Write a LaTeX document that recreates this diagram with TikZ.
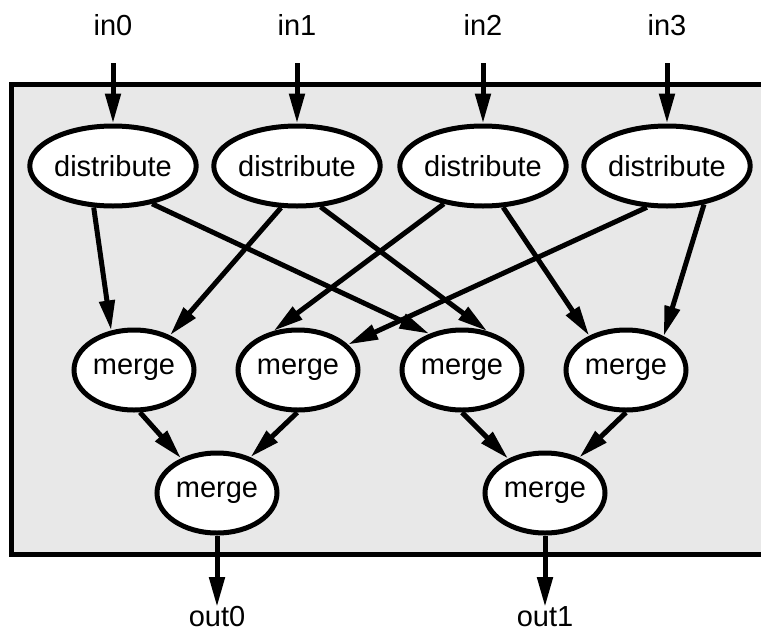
\documentclass[tikz,border=0pt]{standalone}
\usepackage{fontspec}
\setmainfont{Liberation Sans}
\usetikzlibrary{shapes.geometric,arrows.meta}
\definecolor{boxbg}{RGB}{232,232,232}
\begin{document}
\begin{tikzpicture}[x=1pt,y=-1pt,
  every node/.style={font=\fontsize{29}{34}\selectfont},
  dist/.style={ellipse,draw,line width=5pt,fill=white,minimum width=159pt,minimum height=80pt,inner sep=0pt},
  mrg/.style={ellipse,draw,line width=5pt,fill=white,minimum width=120pt,minimum height=80pt,inner sep=0pt},
  conn/.style={line width=5pt,-{Triangle[length=30pt,width=15pt]}},
  lbl/.style={anchor=base,inner sep=0pt}]
\useasboundingbox (0,0) rectangle (761,635);
\fill[boxbg] (11,84) rectangle (761,554.5);
\draw[line width=5pt] (770,84) -- (11,84) -- (11,554.5) -- (770,554.5);
% input labels and coordinates
\node[lbl] (l0) at (113,35) {in0};
\node[lbl] (l1) at (297,35) {in1};
\node[lbl] (l2) at (483,35) {in2};
\node[lbl] (l3) at (667,35) {in3};
\coordinate (i0) at (113,63);
\coordinate (i1) at (297,63);
\coordinate (i2) at (483,63);
\coordinate (i3) at (667,63);
% distribute nodes
\node[dist] (d0) at (113,166) {distribute};
\node[dist] (d1) at (297,166) {distribute};
\node[dist] (d2) at (483,166) {distribute};
\node[dist] (d3) at (667,166) {distribute};
% merge row
\node[mrg] (m0) at (134,370) {merge};
\node[mrg] (m1) at (298,370) {merge};
\node[mrg] (m2) at (462,370) {merge};
\node[mrg] (m3) at (626,370) {merge};
% bottom merges
\node[mrg] (b0) at (217,493) {merge};
\node[mrg] (b1) at (545,493) {merge};
% outputs
\coordinate (o0) at (217,607);
\coordinate (o1) at (545,607);
\node[lbl] (ol0) at (217,626) {out0};
\node[lbl] (ol1) at (545,626) {out1};
% connectors
\draw[conn] (i0) -- (d0.north);
\draw[conn] (i1) -- (d1.north);
\draw[conn] (i2) -- (d2.north);
\draw[conn] (i3) -- (d3.north);
\draw[conn] (d0.245) -- (m0.120);
\draw[conn] (d0.316) -- (m2.132);
\draw[conn] (d1.249) -- (m0.44);
\draw[conn] (d1.300) -- (m2.57);
\draw[conn] (d2.224) -- (m1.122);
\draw[conn] (d3.244) -- (m1.27);
\draw[conn] (d2.296) -- (m3.137);
\draw[conn] (d3.314) -- (m3.42);
\draw[conn] (m0.278) -- (b0.136);
\draw[conn] (m1.269) -- (b0.47);
\draw[conn] (m2.270) -- (b1.137);
\draw[conn] (m3.270) -- (b1.46);
\draw[conn] (b0.south) -- (o0);
\draw[conn] (b1.south) -- (o1);
\end{tikzpicture}
\end{document}
